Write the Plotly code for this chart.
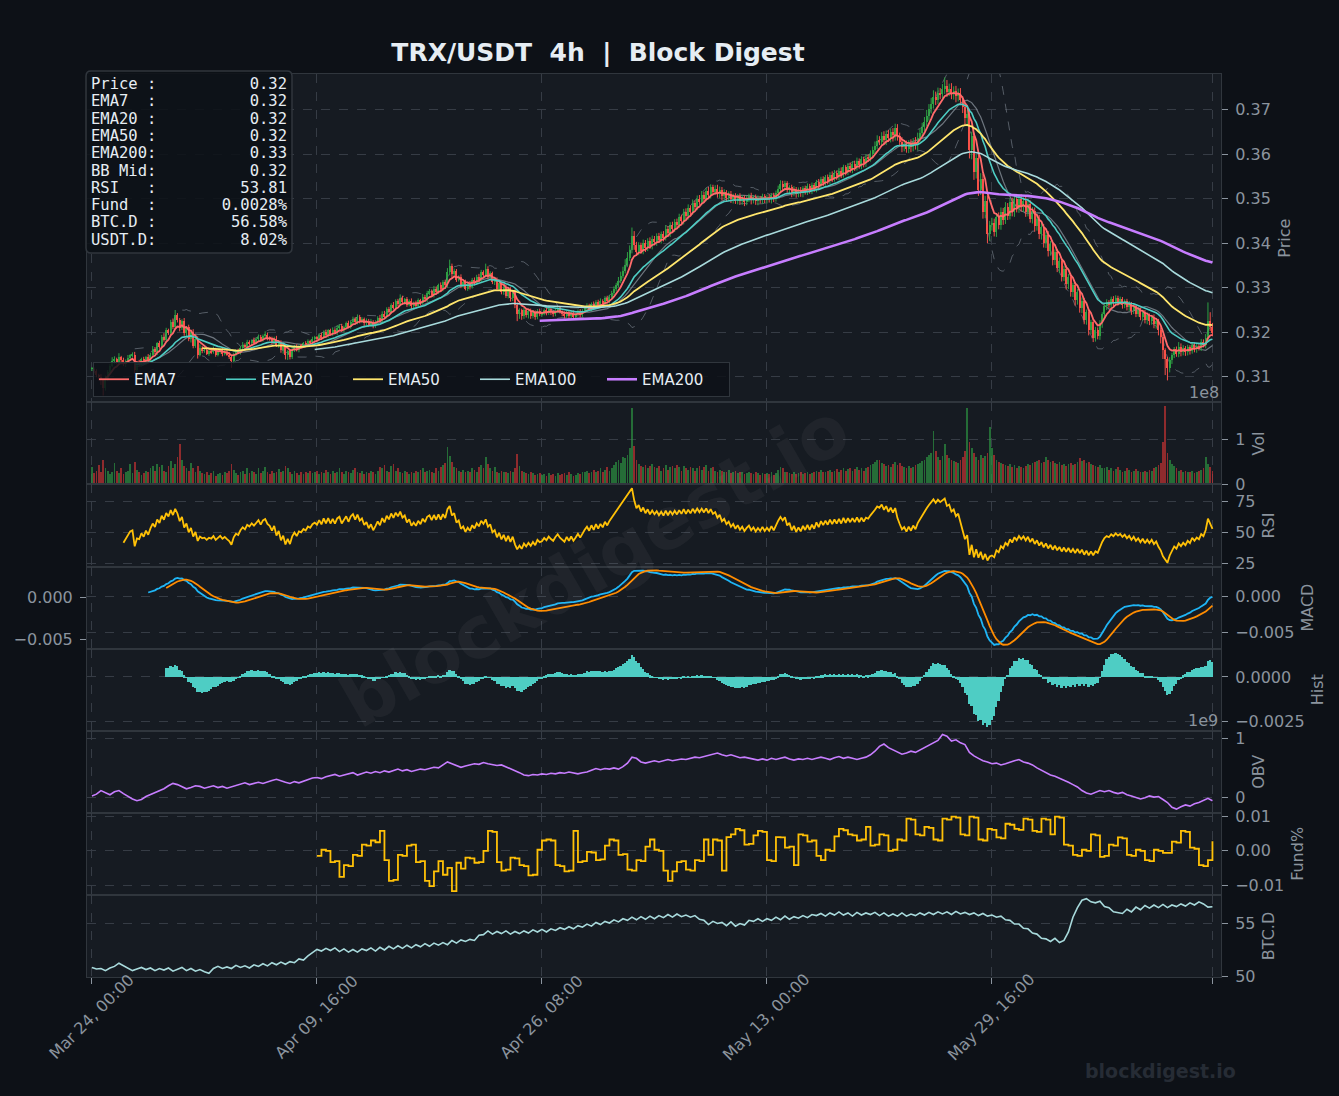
import numpy as np
import pandas as pd
import plotly.graph_objects as go

# ---------------- DATA ----------------
START = "2025-03-24 00:00"
PRICE_BASE = 0.30          # closes / wicks are given in 0.0001 above this base

CLOSE_BP = [
    118,112,105,100,92,75,95,110,125,135,140,132,145,138,128,135,142,148,150,115,130,128,140,132,145,136,150,162,155,175,168,190,182,205,198,222,212,238,228,210,226,198,212,185,200,170,186,150,165,158,
    160,152,158,155,162,150,155,160,152,156,150,145,135,150,158,155,165,172,168,178,175,182,178,185,190,183,192,195,188,185,178,186,170,178,160,168,148,158,145,160,168,160,170,168,175,172,180,178,185,188,
    185,194,188,200,193,204,196,206,199,210,214,204,212,220,212,224,230,222,234,225,230,220,226,216,224,214,222,232,226,242,235,252,246,262,255,270,264,278,268,274,262,270,258,266,260,272,266,280,274,288,
    292,284,298,290,305,296,312,305,335,348,330,338,318,325,305,312,298,310,302,318,310,325,318,335,328,342,325,332,312,318,298,310,290,302,282,296,276,290,262,240,250,236,250,238,248,236,246,234,248,240,
    242,250,243,252,245,240,248,254,246,242,236,245,236,244,234,240,247,239,248,254,260,253,264,256,268,260,270,264,276,270,280,288,296,305,316,326,338,352,366,385,415,395,380,395,382,400,388,405,394,410,
    402,415,406,420,412,432,422,440,432,448,440,458,450,470,460,478,470,490,482,500,492,508,500,518,508,525,515,522,510,520,506,514,502,510,498,506,495,505,494,502,492,500,506,496,503,494,502,496,505,497,
    504,498,508,500,512,522,532,526,534,520,526,512,522,510,520,512,524,516,528,518,530,522,538,528,544,536,548,540,554,545,558,550,563,554,570,560,574,566,578,570,584,575,588,580,592,590,600,608,618,630,
    628,640,632,645,636,650,642,658,640,628,616,622,612,624,615,628,620,636,648,660,672,686,700,712,728,722,738,734,745,752,740,746,734,742,730,738,722,705,680,690,610,640,560,590,520,545,470,495,420,440,
    445,425,458,440,470,452,480,462,492,470,498,478,500,480,495,470,488,455,472,438,455,420,436,400,418,382,398,362,380,345,360,325,342,308,325,290,305,272,290,255,270,228,245,205,222,188,205,192,220,240,
    258,268,262,275,266,278,268,274,262,270,256,264,248,258,242,250,235,245,228,238,225,234,218,225,205,190,160,140,120,138,150,162,152,166,155,164,155,166,158,172,162,170,165,178,172,188,225,212,198,
]

WICK_UP_BP = [
    4,3,5,2,6,3,8,5,4,9,6,3,8,2,5,4,7,3,5,6,4,8,3,5,2,6,4,7,5,3,6,4,8,5,3,6,9,12,5,4,3,6,2,5,4,7,3,5,8,4,
    3,5,2,4,6,3,5,2,4,3,5,6,2,4,3,5,4,6,3,5,4,2,6,3,5,4,3,7,4,3,5,4,6,3,4,5,3,2,4,6,3,5,2,4,3,5,4,3,5,4,
    4,3,5,4,6,3,4,5,3,6,4,5,3,4,6,3,5,4,6,5,4,3,5,4,6,3,5,4,7,5,6,4,5,3,6,4,5,7,4,3,5,4,6,3,5,4,3,6,4,5,
    5,4,6,5,4,7,5,6,9,15,6,5,4,3,5,4,6,3,5,4,5,4,6,5,4,12,6,5,4,3,5,4,3,5,4,3,5,4,6,5,4,3,5,4,3,5,4,3,4,5,
    4,3,5,4,3,4,5,3,4,3,5,4,3,4,5,3,4,5,4,3,5,4,3,5,4,5,6,4,5,6,4,5,7,6,8,10,9,12,14,10,20,12,8,7,6,8,7,6,8,7,
    6,7,8,6,7,8,6,7,8,6,7,8,6,7,8,9,7,8,6,7,8,9,7,6,8,7,6,8,9,7,6,7,5,6,7,5,6,5,7,6,5,6,5,7,5,6,5,4,6,5,
    5,6,4,5,6,7,9,8,6,5,4,5,6,4,5,6,4,5,6,5,6,5,4,6,5,6,5,6,5,7,6,5,6,7,6,5,6,7,6,7,8,6,7,6,8,7,8,9,10,12,
    10,9,11,8,9,7,8,10,9,8,10,9,8,7,9,8,10,12,9,10,11,13,12,14,15,12,11,10,12,20,14,12,13,10,11,9,10,8,10,9,12,10,8,9,10,12,10,11,12,10,
    12,10,9,11,10,9,12,10,9,10,11,8,9,10,8,9,10,8,9,8,7,8,9,7,8,9,7,8,6,7,8,6,7,8,6,7,6,8,7,6,8,7,6,7,6,8,7,6,7,5,
    5,6,4,5,6,5,4,6,5,4,5,6,4,5,4,6,5,4,5,6,4,5,6,4,5,6,5,4,5,6,4,5,6,12,9,7,5,6,5,4,5,6,5,7,6,8,42,20,9,
]

WICK_DN_BP = [
    5,4,6,8,10,17,6,4,5,3,6,4,5,7,4,6,3,5,4,8,6,4,5,3,6,4,5,3,4,6,5,4,3,5,4,6,5,4,6,8,5,6,7,5,8,6,5,9,4,5,
    4,3,5,4,3,5,4,3,6,4,3,5,15,6,4,3,5,4,6,3,4,5,3,4,5,3,4,5,6,4,5,4,3,5,6,8,9,10,6,5,4,3,5,4,3,5,4,3,5,4,
    3,4,5,3,4,5,3,4,3,5,4,3,4,5,3,4,5,3,4,5,4,6,5,4,3,5,4,6,3,4,5,4,3,5,4,6,5,4,5,6,5,4,6,5,4,5,6,4,5,6,
    5,4,6,5,4,5,4,6,5,7,8,6,5,4,6,5,4,5,6,4,5,4,6,5,4,5,6,5,4,6,5,4,5,6,5,6,7,6,8,15,10,8,6,5,7,6,5,6,5,4,
    5,4,5,4,6,5,4,5,4,6,5,4,6,5,4,5,4,6,5,4,5,4,6,5,4,5,4,6,5,4,5,6,5,4,5,6,5,6,5,6,8,10,8,7,6,7,8,6,7,8,
    7,8,6,7,8,6,7,8,6,7,8,6,7,8,6,7,8,6,7,8,6,7,8,6,7,8,6,7,8,9,10,8,9,7,8,9,7,8,7,8,9,7,8,9,7,8,9,7,8,7,
    8,7,9,8,7,8,9,7,8,7,8,9,7,8,7,8,9,7,8,7,8,7,8,9,7,8,7,8,7,8,7,8,9,8,7,8,7,8,9,8,7,8,9,10,9,8,7,9,8,7,
    8,9,10,12,9,10,14,12,10,11,12,10,9,10,11,9,10,12,11,10,9,10,11,9,10,12,10,11,9,10,12,10,11,12,14,12,11,13,15,18,20,22,18,15,14,12,15,14,20,15,
    12,10,11,9,10,11,9,10,9,10,11,9,10,9,10,11,10,9,11,12,10,11,12,10,11,12,10,12,11,10,12,11,10,12,11,10,11,12,10,11,12,10,11,12,9,10,9,8,9,10,
    9,8,7,8,9,7,8,7,9,8,7,8,9,7,8,7,8,9,8,10,9,8,9,10,12,15,20,36,28,10,9,8,7,8,9,7,8,7,8,6,7,8,6,7,6,8,10,9,7,
]

VOLUME_M = [
    38,25,30,42,28,55,35,30,22,28,48,30,25,35,22,28,30,45,25,50,32,28,20,25,30,27,35,40,30,45,38,42,30,28,40,52,35,45,60,89,55,40,35,30,48,35,28,40,30,25,
    22,28,20,25,30,18,22,25,20,28,24,30,45,32,25,20,28,30,22,35,25,30,28,22,35,25,30,38,26,22,30,25,28,33,26,30,40,35,28,22,30,25,20,26,22,28,24,30,25,28,
    30,22,28,25,32,26,22,30,25,28,35,26,22,30,28,25,32,36,28,25,30,22,28,24,30,26,22,30,38,35,42,30,28,40,45,30,36,28,25,30,26,22,28,25,30,28,32,35,28,30,
    32,28,25,35,30,38,42,48,84,62,50,38,35,30,28,32,26,30,28,35,32,28,38,42,35,60,45,35,30,38,28,25,30,26,28,24,30,28,35,67,40,30,28,25,22,26,24,20,22,25,
    20,22,18,24,20,22,18,25,20,22,24,20,26,22,18,20,24,22,26,28,30,25,28,32,26,30,35,28,32,38,30,35,42,50,55,48,60,58,65,80,170,85,55,45,40,38,42,35,40,44,
    38,35,40,30,36,42,32,38,40,35,42,38,30,40,36,32,38,35,30,36,40,32,38,42,30,35,38,30,28,32,30,26,28,32,25,28,30,24,26,28,22,25,28,24,22,26,24,20,25,22,
    24,22,26,20,25,32,38,35,28,26,24,22,26,22,25,28,22,24,26,22,25,28,30,26,32,28,26,30,32,28,30,34,28,32,35,30,33,36,30,34,38,32,36,30,35,38,42,45,50,55,
    55,48,45,40,42,38,45,50,42,48,40,38,35,40,36,38,42,45,48,52,55,60,65,70,118,75,60,55,62,89,65,58,55,52,50,48,55,60,75,170,95,80,70,60,55,65,58,62,70,127,
    80,65,55,50,48,45,42,40,45,38,42,36,40,38,35,40,45,42,48,50,52,55,48,50,60,55,50,52,48,45,50,42,46,40,45,48,42,46,50,58,52,55,48,50,45,42,40,38,42,36,
    35,38,32,36,30,34,38,32,28,30,35,32,28,30,34,30,28,26,30,28,32,30,35,38,42,48,95,175,70,55,45,40,35,30,32,28,30,26,28,30,25,28,30,32,35,60,45,38,30,
]

# OBV (units of 1e7), one value every 2nd candle
OBV_1E7 = [
    3,6,12,8,5,10,12,7,2,-2, -5,-3,2,5,8,12,15,20,24,22, 18,15,17,20,19,16,18,20,17,19, 16,18,20,23,25,22,24,26,24,27,
    29,31,28,26,24,27,25,28,31,33, 34,32,35,37,39,36,38,40,42,38, 40,43,41,44,42,45,43,46,48,45, 47,44,46,48,47,49,51,50,55,60,
    57,54,51,53,55,57,56,59,57,55, 54,55,52,49,46,42,38,37,39,38, 40,39,41,40,42,41,43,41,40,42, 43,46,49,47,49,48,50,48,52,58,
    68,66,60,58,60,62,60,62,64,62, 63,65,64,66,68,67,69,71,73,75, 72,70,72,69,67,68,66,64,63,65, 63,66,64,66,68,65,63,65,64,66,
    64,66,68,66,64,67,69,66,68,66, 64,66,68,72,78,86,90,84,80,76, 73,75,78,76,80,84,88,92,96,106, 103,95,97,92,89,76,70,66,62,60,
    57,58,55,57,60,62,64,60,58,55, 50,46,42,38,36,33,30,26,22,18, 12,8,6,9,12,10,12,9,7,9, 5,3,1,-2,0,3,1,2,-3,-8,
    -16,-19,-15,-12,-14,-10,-8,-5,-1,-5,
]

# BTC dominance (%), one value every 2nd candle
BTC_D = [
    50.85,50.7,50.75,50.55,50.8,50.95,51.25,51.0,50.75,50.55, 50.7,50.85,50.65,50.8,50.55,50.75,50.6,50.8,50.5,50.7,
    50.85,50.55,50.75,50.5,50.65,50.45,50.3,50.75,50.95,50.75, 50.9,50.75,51.05,50.85,51.0,50.8,51.1,50.95,51.2,51.0,
    51.3,51.1,51.35,51.15,51.4,51.3,51.65,51.55,51.95,52.25, 52.55,52.4,52.65,52.45,52.7,52.35,52.6,52.3,52.55,52.3,
    52.6,52.45,52.7,52.4,52.75,52.5,52.85,52.6,52.9,52.65, 52.95,52.7,53.0,52.8,53.1,52.85,53.15,52.95,53.2,53.0,
    53.4,53.15,53.45,53.3,53.5,53.4,53.9,53.95,54.3,54.0, 54.25,54.05,54.3,54.0,54.25,54.05,54.3,54.1,54.4,54.2,
    54.45,54.2,54.5,54.35,54.6,54.45,54.7,54.5,54.8,54.65, 54.95,54.75,55.1,54.9,55.2,55.05,55.35,55.15,55.45,55.3,
    55.6,55.35,55.65,55.4,55.7,55.45,55.75,55.55,55.85,55.6, 55.9,55.65,55.8,55.6,55.75,55.4,55.3,54.9,55.2,55.0,
    55.1,54.8,55.15,54.75,55.0,54.85,55.3,55.2,55.45,55.2, 55.45,55.3,55.6,55.35,55.7,55.4,55.65,55.5,55.75,55.55,
    55.85,55.75,55.95,55.7,56.0,55.8,56.1,55.8,56.0,55.7, 56.05,55.8,56.0,55.85,56.05,55.75,56.0,55.7,55.9,55.7,
    56.0,55.7,55.9,55.75,56.0,55.8,56.05,55.85,56.1,55.9, 56.1,55.85,56.15,55.9,56.05,55.85,56.0,55.75,55.95,55.7,
    55.8,55.6,55.7,55.35,55.3,54.95,54.95,54.55,54.5,54.1, 54.0,53.6,53.55,53.3,53.6,53.2,53.4,54.2,55.6,56.5,
    57.2,57.35,57.05,56.95,57.1,56.6,56.5,56.1,56.05,55.95, 56.35,56.1,56.55,56.3,56.7,56.45,56.75,56.5,56.8,56.5,
    56.75,56.6,56.85,56.65,56.95,56.75,57.05,56.85,56.55,56.58,
]

# Funding rate (units of 0.0001 %), every 8h starting at candle FUNDING_START
FUNDING_START = 100
FUNDING_E4 = [
    -15,3,0,-33,-30,-76,-42,-45,-12,-15, 18,15,30,25,58,-27,-88,-85,-12,-15,
    15,18,-33,-30,-88,-103,-60,-30,-70,-50, -118,-35,-52,-20,-22,-35,-33,0,58,55,
    -33,-58,-55,-20,-22,-42,-45,-72,-70,3, 30,33,30,-42,-45,-60,-58,58,-33,-30,
    -3,-5,-27,-25,15,33,30,-12,-10,-55, -58,-27,-30,12,33,3,0,-58,-88,-60,
    -33,-30,-55,-58,-27,-30,33,-12,33,30, -58,40,48,64,60,18,20,45,58,55,
    -27,-30,40,39,9,12,-42,48,45,27, 30,-15,-27,3,0,42,64,60,48,45,
    30,33,70,15,18,48,45,0,3,33, 30,94,91,48,45,70,67,33,30,94,
    91,100,97,48,45,100,97,33,30,64, 61,39,36,79,76,64,61,94,91,58,
    55,94,91,48,100,97,18,15,-12,-15, 3,0,48,45,-18,-15,18,15,39,36,
    -12,-15,3,0,-27,-30,3,0,-6,-6, 27,24,58,55,9,6,-42,-45,-27,28,
]

INFO_ROWS = [("Price", "0.32"), ("EMA7", "0.32"), ("EMA20", "0.32"), ("EMA50", "0.32"),
             ("EMA200", "0.33"), ("BB Mid", "0.32"), ("RSI", "53.81"), ("Fund", "0.0028%"),
             ("BTC.D", "56.58%"), ("USDT.D", "8.02%")]
TITLE = "TRX/USDT  4h  |  Block Digest"
PANEL_TITLES = ["Price", "Vol", "RSI", "MACD", "Hist", "OBV", "Fund%", "BTC.D"]
EMA_SPANS = [7, 20, 50, 100, 200]
TICK_EVERY = 100

# ---------------- STYLE ----------------
PAPER = "#0d1117"
PANEL = "#161b22"
GRID = "#363c45"
SPINE = "#30363d"
TXT = "#8b949e"
WHITE = "#e6edf3"
UP = "#2ea043"
DN = "#f85149"
EMA_STYLE = {7: ("#ff6b6b", 1.8), 20: ("#4ecdc4", 1.6), 50: ("#ffe66d", 1.8),
             100: ("#a8dadc", 1.6), 200: ("#c77dff", 2.6)}
FONT = "DejaVu Sans"
TICK_FS = 16
W, H = 1339, 1096
L, R, T, B = 87, 1221, 74, 977          # plot-area pixel box


def px(x):
    return (x - L) / (R - L)


def py(y):
    return (B - y) / (B - T)


# ---------------- COMPUTE ----------------
n = len(CLOSE_BP)
for nm, arr in [("WU", WICK_UP_BP), ("WD", WICK_DN_BP), ("VOL", VOLUME_M)]:
    assert len(arr) == n, (nm, len(arr), n)

t = pd.date_range(START, periods=n, freq="4h")
step = pd.Timedelta(hours=4)
close = PRICE_BASE + np.array(CLOSE_BP, float) / 1e4
opn = np.concatenate([[close[0]], close[:-1]])
high = np.maximum(opn, close) + np.array(WICK_UP_BP, float) / 1e4
low = np.minimum(opn, close) - np.array(WICK_DN_BP, float) / 1e4
vol = np.array(VOLUME_M, float) * 1e6
s = pd.Series(close)


def ema(series, span):
    e = series.ewm(span=span, adjust=False).mean()
    e.iloc[:span - 1] = np.nan
    return e


emas = {k: ema(s, k) for k in EMA_SPANS}
bb_mid = s.rolling(20).mean()
bb_sd = s.rolling(20).std(ddof=0)
bb_up, bb_dn = bb_mid + 2 * bb_sd, bb_mid - 2 * bb_sd

# Wilder RSI(14)
d = s.diff()
gain = d.clip(lower=0).ewm(alpha=1 / 14, adjust=False, min_periods=14).mean()
loss = (-d.clip(upper=0)).ewm(alpha=1 / 14, adjust=False, min_periods=14).mean()
rsi = 100 - 100 / (1 + gain / loss)

macd = s.ewm(span=12, adjust=False).mean() - s.ewm(span=26, adjust=False).mean()
macd.iloc[:25] = np.nan
signal = macd.ewm(span=9, adjust=False).mean()
signal.iloc[:33] = np.nan
hist = macd - signal

t2 = t[::2][:len(OBV_1E7)]
obv = np.array(OBV_1E7, float) * 1e7
btcd = np.array(BTC_D, float)
tf = t[FUNDING_START::2][:len(FUNDING_E4)]
fund = np.array(FUNDING_E4, float) / 1e4


def auto(vals, frac=0.05, include=None):
    v = np.asarray(pd.Series(vals).dropna(), float)
    lo, hi = v.min(), v.max()
    if include is not None:
        lo, hi = min(lo, include), max(hi, include)
    sp = hi - lo
    return [lo - frac * sp, hi + frac * sp]


# ---------------- FIGURE ----------------
fig = go.Figure()
ms = 4 * 3600 * 1000


def ax(r):
    return ("x" if r == 1 else f"x{r}"), ("y" if r == 1 else f"y{r}")


xa, ya = ax(1)
for band in (bb_up, bb_dn):
    fig.add_trace(go.Scatter(x=t, y=band, mode="lines", xaxis=xa, yaxis=ya,
                             line=dict(color="rgba(139,148,158,0.55)", width=1, dash="dash"),
                             showlegend=False, hoverinfo="skip"))
fig.add_trace(go.Scatter(x=t, y=bb_mid, mode="lines", xaxis=xa, yaxis=ya,
                         line=dict(color="rgba(139,148,158,0.75)", width=1.2),
                         showlegend=False, hoverinfo="skip"))

up = close >= opn
body_lo = np.minimum(opn, close)
body_h = np.maximum(np.abs(close - opn), 0.00003)
for mask, col in ((up, UP), (~up, DN)):
    xs, ys = [], []
    for ti, lo_, hi_ in zip(t[mask], low[mask], high[mask]):
        xs += [ti, ti, None]
        ys += [lo_, hi_, None]
    fig.add_trace(go.Scatter(x=xs, y=ys, mode="lines", xaxis=xa, yaxis=ya,
                             line=dict(color=col, width=1), showlegend=False, hoverinfo="skip"))
    fig.add_trace(go.Bar(x=t[mask], y=body_h[mask], base=body_lo[mask], width=0.62 * ms,
                         marker=dict(color=col, line=dict(width=0)), xaxis=xa, yaxis=ya,
                         showlegend=False, hoverinfo="skip"))

for k in EMA_SPANS:
    c, w = EMA_STYLE[k]
    fig.add_trace(go.Scatter(x=t, y=emas[k], mode="lines", name=f"EMA{k}", xaxis=xa, yaxis=ya,
                             line=dict(color=c, width=w), showlegend=True))

vcol = np.where(up, "rgba(46,160,67,0.62)", "rgba(218,54,51,0.62)")
xa2, ya2 = ax(2)
fig.add_trace(go.Bar(x=t, y=vol, width=0.8 * ms, marker=dict(color=list(vcol), line=dict(width=0)),
                     xaxis=xa2, yaxis=ya2, showlegend=False))
xa3, ya3 = ax(3)
fig.add_trace(go.Scatter(x=t, y=rsi, mode="lines", line=dict(color="#ffc107", width=1.8),
                         xaxis=xa3, yaxis=ya3, showlegend=False))
xa4, ya4 = ax(4)
fig.add_trace(go.Scatter(x=t, y=macd, mode="lines", line=dict(color="#1fb5f5", width=1.8),
                         xaxis=xa4, yaxis=ya4, showlegend=False))
fig.add_trace(go.Scatter(x=t, y=signal, mode="lines", line=dict(color="#ff8c00", width=1.8),
                         xaxis=xa4, yaxis="y9", showlegend=False))
xa5, ya5 = ax(5)
fig.add_trace(go.Bar(x=t, y=hist, width=0.8 * ms, marker=dict(color="#4ecdc4", line=dict(width=0)),
                     xaxis=xa5, yaxis=ya5, showlegend=False))
xa6, ya6 = ax(6)
fig.add_trace(go.Scatter(x=t2, y=obv, mode="lines", line=dict(color="#c77dff", width=1.6),
                         xaxis=xa6, yaxis=ya6, showlegend=False))
xa7, ya7 = ax(7)
fig.add_trace(go.Scatter(x=tf, y=fund, mode="lines", line=dict(color="#ffc107", width=1.8, shape="hv"),
                         xaxis=xa7, yaxis=ya7, showlegend=False))
xa8, ya8 = ax(8)
fig.add_trace(go.Scatter(x=t2, y=btcd, mode="lines", line=dict(color="#a8dadc", width=1.6),
                         xaxis=xa8, yaxis=ya8, showlegend=False))

# ---------------- AXES ----------------
HR = [4, 1, 1, 1, 1, 1, 1, 1]
tot = sum(HR)
doms, top = [], 1.0
for h in HR:
    bot = top - h / tot
    doms.append([max(bot, 0.0), min(top, 1.0)])
    top = bot

tick_idx = list(range(0, n, TICK_EVERY)) + [n - 1]
tickvals = [t[i] for i in tick_idx]
xr = [t[0] - 2.2 * step, t[0] + 501.8 * step]

layout = {}
for r in range(1, 9):
    key = "xaxis" if r == 1 else f"xaxis{r}"
    cfg = dict(domain=[0, 1], anchor=("y" if r == 1 else f"y{r}"), type="date", range=xr,
               showgrid=True, gridcolor=GRID, griddash="dash", gridwidth=1,
               tickvals=tickvals, showticklabels=False, showline=True, mirror=True,
               linecolor=SPINE, linewidth=1, zeroline=False,
               ticks="outside" if r == 8 else "", ticklen=6, tickcolor=TXT)
    if r > 1:
        cfg["matches"] = "x"
    layout[key] = cfg


def ycfg(r, rng, tickvals=None, ticktext=None, fmt=None):
    c = dict(domain=doms[r - 1], anchor=("x" if r == 1 else f"x{r}"), side="right", range=rng,
             showgrid=True, gridcolor=GRID, griddash="dash", gridwidth=1,
             showline=True, mirror=True, linecolor=SPINE, linewidth=1, zeroline=False,
             ticks="outside", ticklen=6, tickcolor=TXT, ticklabelstandoff=4,
             tickfont=dict(size=TICK_FS, color=TXT),
             title=dict(text=PANEL_TITLES[r - 1], font=dict(size=TICK_FS, color=TXT), standoff=8))
    if tickvals is not None:
        c["tickvals"] = tickvals
    if ticktext is not None:
        c["ticktext"] = ticktext
    if fmt:
        c["tickformat"] = fmt
    return c


price_rng = [low.min() * 0.995, high.max() * 1.002]
layout["yaxis"] = ycfg(1, price_rng, fmt=".2f")
layout["yaxis"]["dtick"] = 0.01
layout["yaxis2"] = ycfg(2, [0, vol.max() * 1.05], [0, 1e8], ["0", "1"])
layout["yaxis3"] = ycfg(3, auto(rsi), [25, 50, 75])
layout["yaxis4"] = ycfg(4, auto(macd), [-0.005, 0.0], fmt=".3f")
layout["yaxis9"] = dict(overlaying="y4", anchor="x4", side="left", range=auto(signal),
                        showgrid=False, showline=False, zeroline=False, tickvals=[-0.005, 0.0],
                        tickformat=".3f", ticks="outside", ticklen=6, tickcolor=TXT,
                        ticklabelstandoff=4, tickfont=dict(size=TICK_FS, color=TXT))
layout["yaxis5"] = ycfg(5, auto(hist, include=0.0), [-0.0025, 0.0], fmt=".4f")
layout["yaxis6"] = ycfg(6, auto(obv), [0, 1e9], ["0", "1"])
layout["yaxis7"] = ycfg(7, auto(fund), [-0.01, 0.0, 0.01], fmt=".2f")
layout["yaxis8"] = ycfg(8, auto(btcd), [50, 55])

# ---------------- DECORATIONS ----------------
NB = "\u00a0"
ann = []
for i in tick_idx[:-1]:
    ann.append(dict(x=t[i], xref="x8", y=py(1017), yref="paper", text=t[i].strftime("%b %d, %H:%M"),
                    textangle=-45, showarrow=False, xanchor="center", yanchor="middle",
                    font=dict(size=TICK_FS, color=TXT)))
ann.append(dict(x=px(1221), y=py(392), xref="paper", yref="paper", text="1e8", showarrow=False,
                xanchor="right", yanchor="middle", font=dict(size=TICK_FS, color=TXT)))
ann.append(dict(x=px(1220), y=py(720), xref="paper", yref="paper", text="1e9", showarrow=False,
                xanchor="right", yanchor="middle", font=dict(size=TICK_FS, color=TXT)))
for k, (lab, val) in enumerate(INFO_ROWS):
    line = (lab.ljust(6) + ":" + val.rjust(14)).replace(" ", NB)
    ann.append(dict(x=px(89), y=py(84 + 17.3 * k), xref="paper", yref="paper", text=line,
                    showarrow=False, xanchor="left", yanchor="middle",
                    font=dict(family="DejaVu Sans Mono", size=15.5, color=WHITE)))
ann.append(dict(x=px(595), y=py(565), xref="paper", yref="paper", text="<b>blockdigest.io</b>",
                textangle=-30, showarrow=False, xanchor="center", yanchor="middle",
                font=dict(size=72, color="rgba(255,255,255,0.045)")))
ann.append(dict(x=px(1160), y=py(1071), xref="paper", yref="paper", text="<b>blockdigest.io</b>",
                showarrow=False, xanchor="center", yanchor="middle",
                font=dict(size=19, color="#262c35")))

x0, x1, y0, y1 = px(86), px(292), py(253), py(71)
rx, ry = 5 / (R - L), 5 / (B - T)
path = (f"M {x0+rx},{y0} L {x1-rx},{y0} Q {x1},{y0} {x1},{y0+ry} L {x1},{y1-ry} "
        f"Q {x1},{y1} {x1-rx},{y1} L {x0+rx},{y1} Q {x0},{y1} {x0},{y1-ry} "
        f"L {x0},{y0+ry} Q {x0},{y0} {x0+rx},{y0} Z")
shapes = [dict(type="path", path=path, xref="paper", yref="paper",
               fillcolor="rgba(13,17,23,0.88)", line=dict(color=SPINE, width=1.5), layer="above")]

fig.update_layout(
    width=W, height=H, paper_bgcolor=PAPER, plot_bgcolor=PANEL,
    margin=dict(l=L, r=W - R, t=T, b=H - B, pad=0),
    font=dict(family=FONT, size=15, color=TXT),
    barmode="overlay", bargap=0, hovermode=False,
    title=dict(text="<b>" + TITLE.replace(" ", NB) + "</b>", x=px(598), xref="paper",
               xanchor="center", y=1 - 52 / H, yref="container", yanchor="middle",
               font=dict(size=25, color=WHITE, family=FONT)),
    legend=dict(orientation="h", x=px(93), y=py(397), xanchor="left", yanchor="bottom",
                bgcolor="rgba(13,17,23,0.85)", bordercolor=SPINE, borderwidth=1,
                font=dict(size=15, color=WHITE), entrywidth=82, entrywidthmode="pixels"),
    annotations=ann, shapes=shapes, **layout,
)

fig.write_html("out.html")
